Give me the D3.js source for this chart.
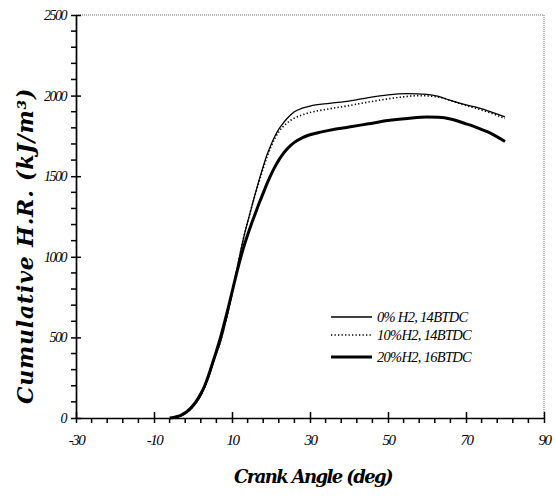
<!DOCTYPE html>
<html>
<head>
<meta charset="utf-8">
<script src="https://cdn.jsdelivr.net/npm/d3@7"></script>
<style>
  html, body { margin: 0; padding: 0; background: #fff; }
  svg { display: block; }
</style>
</head>
<body>
<svg id="chart" width="555" height="497"></svg>
<script>
// Crank angle (deg) and cumulative heat release (kJ/m^3) for each fuel mix
const angles0 = [-5,-4,-3,-2,-1,0,1,2,3,4,5,6,7,8,9,10,11,12,13,14,15,16,17,18,19,20,21,22,23,24,25,26,28,30,35,40,45,50,55,60,63,66,70,73,76,80];
const hr0     = [0,5,14,27,45,70,100,140,190,255,330,400,470,560,660,770,890,1010,1120,1215,1305,1395,1480,1560,1635,1695,1748,1792,1825,1855,1880,1900,1922,1935,1952,1966,1988,2005,2012,2008,1995,1970,1942,1925,1902,1868];

const angles10 = [-5,-4,-3,-2,-1,0,1,2,3,4,5,6,7,8,9,10,11,12,13,14,15,16,17,18,19,20,21,22,23,24,25,26,28,30,35,40,45,50,55,58,61,64,67,70,73,76,80];
const hr10     = [0,5,14,27,45,70,100,140,190,255,330,400,470,560,660,770,890,1010,1120,1215,1305,1390,1470,1548,1620,1682,1735,1775,1805,1828,1846,1860,1880,1895,1918,1938,1960,1980,1995,2000,1997,1985,1962,1938,1918,1895,1858];

const angles20 = [-6,-5,-4,-3,-2,-1,0,1,2,3,4,5,6,7,8,9,10,11,12,13,14,15,16,17,18,19,20,21,22,23,24,25,26,28,30,33,36,40,45,50,55,60,63,66,70,73,76,80];
const hr20     = [0,3,9,18,32,52,78,110,150,200,265,340,415,495,585,680,780,880,975,1060,1135,1205,1270,1335,1395,1455,1510,1558,1600,1635,1665,1690,1710,1738,1757,1775,1790,1805,1825,1845,1858,1867,1865,1855,1825,1800,1770,1715];

const seriesNames = ["0% H2, 14BTDC", "10%H2, 14BTDC", "20%H2, 16BTDC"];
const xTicks = [-30, -10, 10, 30, 50, 70, 90];
const yTicks = [0, 500, 1000, 1500, 2000, 2500];

const svg = d3.select("#chart");
const plotLeft = 76, plotRight = 544, plotTop = 15, plotBottom = 418;

const x = d3.scaleLinear().domain([-30, 90]).range([plotLeft, plotRight]);
const y = d3.scaleLinear().domain([0, 2500]).range([plotBottom, plotTop]);

// dotted frame on the top and right sides
svg.append("path")
  .attr("d", `M${plotLeft},${plotTop}H${plotRight}V${plotBottom}`)
  .attr("fill", "none")
  .attr("stroke", "#666")
  .attr("stroke-width", 1)
  .attr("stroke-dasharray", "1,1");

// axes with major ticks crossing the axis line
const xAxis = svg.append("g").attr("transform", `translate(0,${plotBottom})`)
  .call(d3.axisBottom(x).tickValues(xTicks).tickFormat(d => String(d))
    .tickSizeInner(5).tickSizeOuter(0).tickPadding(8));
xAxis.selectAll(".tick line").attr("y1", -6).attr("stroke-width", 1.5);
xAxis.select(".domain").attr("stroke-width", 1.7);
xAxis.selectAll("text")
  .style("font-family", "'Liberation Serif', serif").style("font-style", "italic")
  .style("font-size", "15px").style("letter-spacing", "-1.5px").attr("dy", "0.9em");

const yAxis = svg.append("g").attr("transform", `translate(${plotLeft},0)`)
  .call(d3.axisLeft(y).tickValues(yTicks).tickFormat(d => String(d))
    .tickSizeInner(5).tickSizeOuter(0).tickPadding(5));
yAxis.selectAll(".tick line").attr("x1", 5).attr("stroke-width", 1.5);
yAxis.select(".domain").attr("stroke-width", 1.7);
yAxis.selectAll("text")
  .style("font-family", "'Liberation Serif', serif").style("font-style", "italic")
  .style("font-size", "14px").style("letter-spacing", "-1.5px");

// minor ticks, drawn after the axes so they sit on top
const xMinor = d3.range(-30, 90.01, 4).filter(v => !xTicks.includes(v));
svg.append("g").selectAll("line").data(xMinor).join("line")
  .attr("x1", d => x(d)).attr("x2", d => x(d))
  .attr("y1", plotBottom).attr("y2", plotBottom + 5)
  .attr("stroke", "#000").attr("stroke-width", 1.5);
const yMinor = d3.range(0, 2500.1, 100).filter(v => !yTicks.includes(v));
svg.append("g").selectAll("line").data(yMinor).join("line")
  .attr("x1", plotLeft - 5).attr("x2", plotLeft)
  .attr("y1", d => y(d)).attr("y2", d => y(d))
  .attr("stroke", "#000").attr("stroke-width", 1.5);

// curves
const line = d3.line().x(d => x(d[0])).y(d => y(d[1])).curve(d3.curveMonotoneX);
const series = [
  { a: angles0, v: hr0, w: 1.3, dash: null },
  { a: angles10, v: hr10, w: 1.6, dash: "1.3,2.2" },
  { a: angles20, v: hr20, w: 3, dash: null }
];
series.forEach(s => {
  svg.append("path")
    .datum(d3.zip(s.a, s.v))
    .attr("d", line)
    .attr("fill", "none")
    .attr("stroke", "#000")
    .attr("stroke-width", s.w)
    .attr("stroke-dasharray", s.dash)
    .attr("stroke-linejoin", "round");
});

// legend
const legendY = [317, 335, 357];
series.forEach((s, i) => {
  svg.append("line")
    .attr("x1", 331).attr("x2", 372)
    .attr("y1", legendY[i]).attr("y2", legendY[i])
    .attr("stroke", "#000").attr("stroke-width", s.w)
    .attr("stroke-dasharray", s.dash);
  svg.append("text")
    .attr("x", 377).attr("y", legendY[i]).attr("dy", "0.35em")
    .style("font-family", "'Liberation Serif', serif").style("font-style", "italic")
    .style("font-size", "14.5px").style("letter-spacing", "-0.7px")
    .text(seriesNames[i]);
});

// axis titles
svg.append("text")
  .attr("x", 313).attr("y", 483)
  .attr("text-anchor", "middle")
  .style("font-family", "'DejaVu Serif', serif").style("font-style", "italic")
  .style("font-weight", "bold").style("font-size", "18px").style("letter-spacing", "-1.6px")
  .text("Crank Angle (deg)");

svg.append("text")
  .attr("transform", "translate(33,246) rotate(-90)")
  .attr("text-anchor", "middle")
  .style("font-family", "'DejaVu Serif', serif").style("font-style", "italic")
  .style("font-weight", "bold").style("font-size", "22px").style("letter-spacing", "0.8px")
  .text("Cumulative H.R. (kJ/m³)");
</script>
</body>
</html>
